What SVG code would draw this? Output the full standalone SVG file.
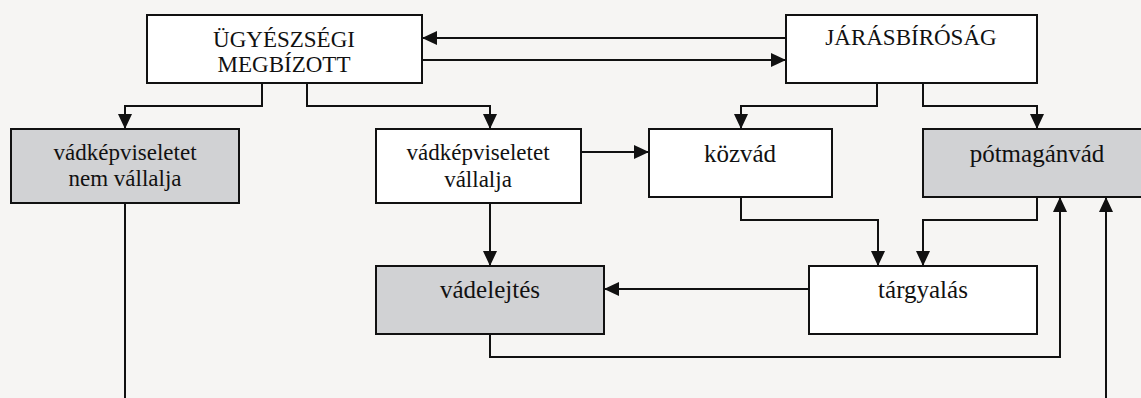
<svg xmlns="http://www.w3.org/2000/svg" width="1141" height="398" viewBox="0 0 1141 398">
<style>
.box{fill:#ffffff;stroke:#111;stroke-width:2}
.gray{fill:#d1d2d4;stroke:#111;stroke-width:2}
.lbl{font-family:"Liberation Serif","Times New Roman",serif;font-size:23px;fill:#111;text-anchor:middle}
.big{font-size:25px}
.ln{fill:none;stroke:#111;stroke-width:2}
</style>
<defs>
<marker id="ah" markerUnits="userSpaceOnUse" markerWidth="15" markerHeight="14" refX="15" refY="7" orient="auto">
<path d="M0,0 L15,7 L0,14 z" fill="#111"/>
</marker>
</defs>
<rect width="1141" height="398" fill="#f6f5f3"/>
<g id="connectors">
<path class="ln" d="M786,38 H422" marker-end="url(#ah)"/>
<path class="ln" d="M422,60 H786" marker-end="url(#ah)"/>
<path class="ln" d="M262,83 V106 H125 V129" marker-end="url(#ah)"/>
<path class="ln" d="M307,83 V106 H490 V129" marker-end="url(#ah)"/>
<path class="ln" d="M877,83 V106 H741 V129" marker-end="url(#ah)"/>
<path class="ln" d="M923,83 V106 H1037 V129" marker-end="url(#ah)"/>
<path class="ln" d="M581,152 H649" marker-end="url(#ah)"/>
<path class="ln" d="M490,203 V266" marker-end="url(#ah)"/>
<path class="ln" d="M741,197 V220 H878 V266" marker-end="url(#ah)"/>
<path class="ln" d="M1037,197 V220 H923 V266" marker-end="url(#ah)"/>
<path class="ln" d="M809,289 H604" marker-end="url(#ah)"/>
<path class="ln" d="M490,334 V357 H1060 V197" marker-end="url(#ah)"/>
<path class="ln" d="M125,203 V398"/>
<path class="ln" d="M1106,398 V197" marker-end="url(#ah)"/>
</g>
<g id="ugyeszsegi">
<rect class="box" x="147" y="15" width="275" height="68"/>
<text class="lbl" x="284" y="47">ÜGYÉSZSÉGI</text>
<text class="lbl" x="284" y="72">MEGBÍZOTT</text>
</g>
<g id="jarasbirosag">
<rect class="box" x="786" y="15" width="251" height="68"/>
<text class="lbl" x="911" y="45">JÁRÁSBÍRÓSÁG</text>
</g>
<g id="nem-vallalja">
<rect class="gray" x="11" y="129" width="228" height="74"/>
<text class="lbl" x="125" y="160">vádképviseletet</text>
<text class="lbl" x="125" y="186">nem vállalja</text>
</g>
<g id="vallalja">
<rect class="box" x="376" y="129" width="205" height="74"/>
<text class="lbl" x="478" y="160">vádképviseletet</text>
<text class="lbl" x="478" y="187">vállalja</text>
</g>
<g id="kozvad">
<rect class="box" x="649" y="129" width="183" height="68"/>
<text class="lbl big" x="740" y="162">közvád</text>
</g>
<g id="potmaganvad">
<rect class="gray" x="923" y="129" width="230" height="68"/>
<text class="lbl big" x="1037" y="162">pótmagánvád</text>
</g>
<g id="vadelejtes">
<rect class="gray" x="376" y="266" width="228" height="68"/>
<text class="lbl big" x="490" y="298">vádelejtés</text>
</g>
<g id="targyalas">
<rect class="box" x="809" y="266" width="228" height="68"/>
<text class="lbl big" x="923" y="298">tárgyalás</text>
</g>
</svg>
